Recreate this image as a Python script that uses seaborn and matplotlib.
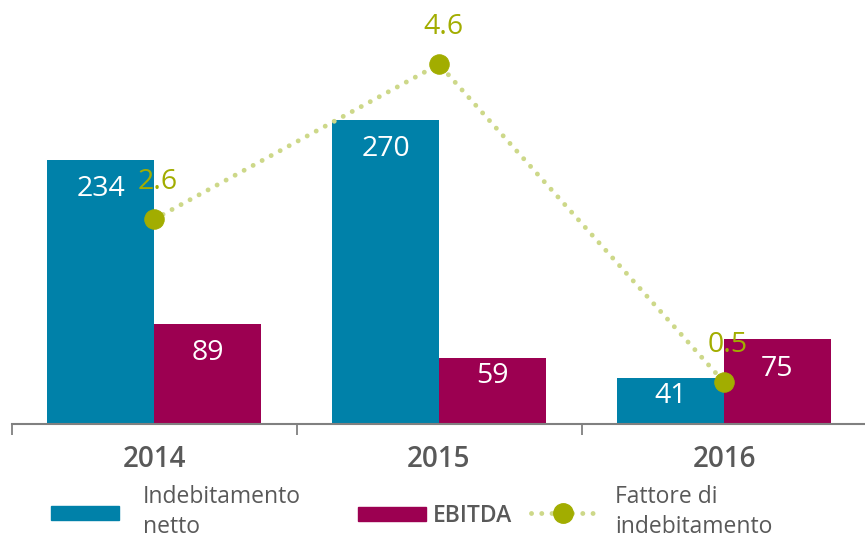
import matplotlib
matplotlib.use('Agg')
import matplotlib.pyplot as plt
import seaborn as sns
import pandas as pd
import numpy as np
from matplotlib.patches import Patch
from matplotlib.lines import Line2D

# Data
years = ['2014', '2015', '2016']
indebitamento = [234, 270, 41]
ebitda = [89, 59, 75]
fattore = [2.6, 4.6, 0.5]
series_names = ['Indebitamento netto', 'EBITDA']

BLUE = '#0081A9'
PURPLE = '#9C0051'
GREEN = '#A2AD00'
DOTS = '#CDD889'
GREY = '#808080'
TEXT = '#595959'

df = pd.DataFrame({
    'anno': years * 2,
    'serie': [series_names[0]] * 3 + [series_names[1]] * 3,
    'valore': indebitamento + ebitda,
})

sns.set_style('white')
plt.rcParams['font.family'] = ['Open Sans', 'DejaVu Sans']

W, H = 865, 539
fig = plt.figure(figsize=(W / 100, H / 100), dpi=100)
ax = fig.add_axes([11.5 / W, (H - 424) / H, 855 / W, 414 / H])

sns.barplot(data=df, x='anno', y='valore', hue='serie', order=years,
            hue_order=series_names, palette=[BLUE, PURPLE], width=0.75,
            saturation=1, legend=False, linewidth=0, ax=ax)
ax.set_xlim(-0.5, 2.5)
ax.set_ylim(0, 367.4)
ax.set_xlabel('')
ax.set_ylabel('')
ax.set_yticks([])

# bar value labels
for cont in ax.containers:
    for p in cont.patches:
        h = p.get_height()
        off = -21 if h > 60 else -13
        ax.annotate(f'{h:.0f}', (p.get_x() + p.get_width() / 2, h),
                    xytext=(0, off), textcoords='offset points',
                    ha='center', va='center', color='white', fontsize=20.5)

# axis styling
for s in ['top', 'right', 'left']:
    ax.spines[s].set_visible(False)
ax.spines['bottom'].set_color(GREY)
ax.spines['bottom'].set_linewidth(1.5)
ax.set_xticks(range(len(years)))
ax.set_xticklabels(years, fontsize=20, fontweight='semibold', color=TEXT)
ax.tick_params(axis='x', which='major', bottom=True, length=0, pad=15)
ax.set_xticks([-0.5, 0.5, 1.5], minor=True)
ax.tick_params(axis='x', which='minor', bottom=True, length=8, width=1.3,
               color=GREY, direction='out')

# secondary axis for the factor
ax2 = ax.twinx()
sns.lineplot(x=np.arange(len(years)), y=fattore, ax=ax2, color=DOTS,
             linewidth=3.5, linestyle=(0, (0.01, 2.1)), dash_capstyle='round',
             marker='o', markersize=14, markerfacecolor=GREEN,
             markeredgecolor=GREEN)
ax2.set_ylim(-0.04, 5.30)
ax2.set_xlim(-0.5, 2.5)
ax2.set_yticks([])
for s in ax2.spines.values():
    s.set_visible(False)
for i, v in enumerate(fattore):
    ax2.annotate(f'{v:.1f}', (i, v), xytext=(3, 27), textcoords='offset points',
                 ha='center', va='center', color=GREEN, fontsize=20.5)

# legends
common = dict(frameon=False, fontsize=16.5, borderpad=0, borderaxespad=0,
              labelcolor=TEXT, loc='center left')
leg1 = fig.legend(handles=[Patch(color=BLUE)], labels=['Indebitamento\nnetto'],
                  bbox_to_anchor=(51 / W, 1 - 512 / H),
                  handlelength=68 / 16.5 / 1.389, handleheight=0.6,
                  handletextpad=24 / 16.5 / 1.389, **common)
leg2 = fig.legend(handles=[Patch(color=PURPLE)], labels=['EBITDA'],
                  bbox_to_anchor=(358 / W, 1 - 516 / H),
                  handlelength=68 / 16.5 / 1.389, handleheight=0.6,
                  handletextpad=7 / 16.5 / 1.389, **common)
leg2.get_texts()[0].set_fontweight('semibold')
line_handle = Line2D([], [], color=DOTS, linewidth=3.5,
                     linestyle=(0, (0.01, 2.1)), dash_capstyle='round',
                     marker='o', markersize=14, markerfacecolor=GREEN,
                     markeredgecolor=GREEN)
leg3 = fig.legend(handles=[line_handle], labels=['Fattore di\nindebitamento'],
                  bbox_to_anchor=(531 / W, 1 - 512 / H), numpoints=1,
                  handlelength=64 / 16.5 / 1.389,
                  handletextpad=20 / 16.5 / 1.389, **common)
for lg in (leg1, leg3):
    lg.get_texts()[0].set_linespacing(1.35)

fig.savefig('out.png', dpi=100)
plt.close(fig)
print('Saved: out.png')
